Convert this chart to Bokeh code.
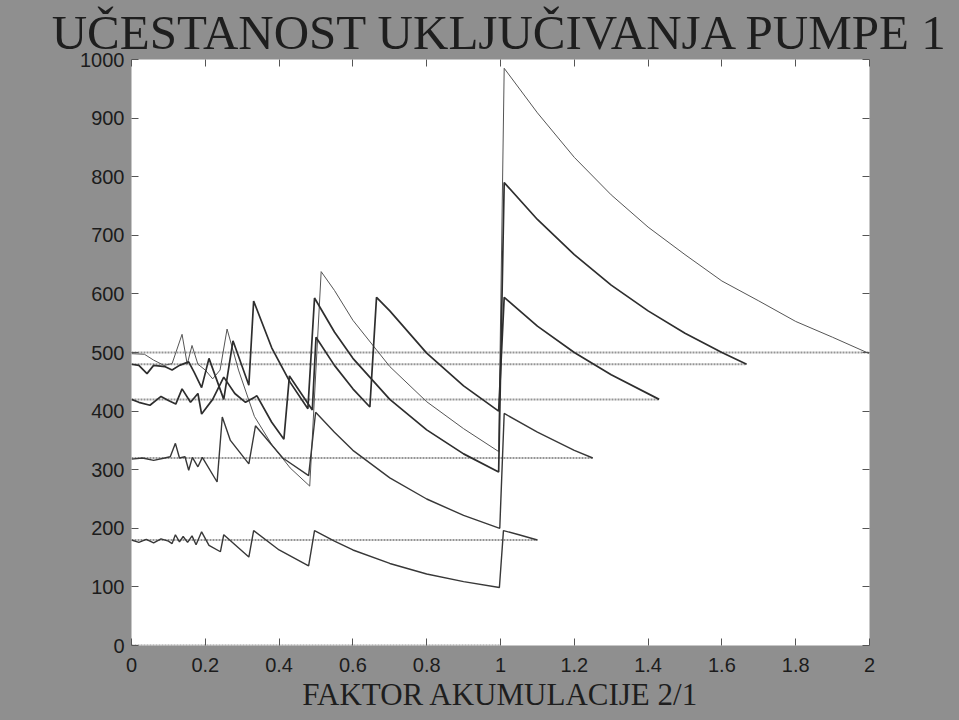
from bokeh.plotting import figure
from bokeh.models import LinearAxis, Range1d, FixedTicker, GlobalInlineStyleSheet
from bokeh.embed import file_html
from bokeh.resources import INLINE

# ---------------- data ----------------
title_text = "UČESTANOST UKLJUČIVANJA PUMPE 1"
x_label_text = "FAKTOR AKUMULACIJE 2/1"

x_ticks = [0, 0.2, 0.4, 0.6, 0.8, 1, 1.2, 1.4, 1.6, 1.8, 2]
x_tick_labels = ["0", "0.2", "0.4", "0.6", "0.8", "1", "1.2", "1.4", "1.6", "1.8", "2"]
y_ticks = [0, 100, 200, 300, 400, 500, 600, 700, 800, 900, 1000]
y_tick_labels = ["0", "100", "200", "300", "400", "500", "600", "700", "800", "900", "1000"]

# steady-state levels (horizontal lines): level value and x where it ends
level_values = [500, 480, 420, 320, 180, 0]
level_x_end = [2.0, 1.667, 1.43, 1.25, 1.1, 1.0]

# curve A (thin, level 500)
a_x = [0, 0.035, 0.06, 0.088, 0.11, 0.137, 0.151, 0.164, 0.18, 0.2, 0.22, 0.24, 0.259, 0.29, 0.333,
       0.38, 0.43, 0.483, 0.514, 0.55, 0.6, 0.7, 0.8, 0.9, 0.995, 1.01, 1.1, 1.2, 1.3, 1.4, 1.5,
       1.6, 1.7, 1.8, 1.9, 2.0]
a_y = [498, 497, 487, 478, 481, 531, 480, 512, 480, 470, 455, 470, 540, 470, 391,
       343, 303, 272, 638, 606, 555, 476, 416, 370, 331, 985, 909, 833, 769, 714, 667,
       622, 588, 553, 526, 498]

# curve B (thick, level 480)
b_x = [0, 0.02, 0.042, 0.06, 0.09, 0.11, 0.13, 0.155, 0.17, 0.19, 0.21, 0.23, 0.25, 0.275, 0.318,
       0.331, 0.38, 0.43, 0.478, 0.496, 0.55, 0.6, 0.7, 0.8, 0.9, 0.995, 1.01, 1.1, 1.2, 1.3,
       1.4, 1.5, 1.6, 1.667]
b_y = [480, 478, 464, 478, 476, 470, 478, 484, 466, 440, 490, 455, 420, 520, 444,
       588, 508, 449, 404, 593, 535, 490, 420, 368, 327, 296, 790, 727, 667, 615,
       571, 533, 500, 480]

# curve C (thick, level 420)
c_x = [0, 0.02, 0.05, 0.08, 0.1, 0.12, 0.137, 0.16, 0.18, 0.19, 0.22, 0.25, 0.28, 0.309, 0.34,
       0.38, 0.413, 0.428, 0.49, 0.5, 0.55, 0.6, 0.646, 0.664, 0.7, 0.8, 0.9, 0.995, 1.01, 1.1,
       1.2, 1.3, 1.43]
c_y = [420, 415, 410, 425, 418, 412, 438, 415, 430, 395, 420, 458, 430, 415, 426,
       381, 352, 460, 402, 526, 478, 438, 407, 594, 571, 499, 443, 400, 594, 545,
       500, 462, 420]

# curve D (medium, level 320)
d_x = [0, 0.03, 0.06, 0.09, 0.105, 0.119, 0.13, 0.145, 0.155, 0.165, 0.18, 0.192, 0.232, 0.246,
       0.268, 0.318, 0.336, 0.41, 0.48, 0.499, 0.55, 0.6, 0.7, 0.8, 0.9, 0.998, 1.01, 1.1,
       1.2, 1.25]
d_y = [318, 320, 316, 320, 322, 345, 320, 322, 299, 321, 305, 321, 279, 390,
       350, 310, 375, 320, 290, 398, 364, 333, 286, 250, 222, 200, 396, 364,
       333, 320]

# curve E (medium, level 180)
e_x = [0, 0.02, 0.04, 0.06, 0.08, 0.1, 0.11, 0.119, 0.13, 0.14, 0.152, 0.164, 0.175, 0.19,
       0.21, 0.241, 0.25, 0.318, 0.331, 0.4, 0.48, 0.496, 0.55, 0.6, 0.7, 0.8, 0.9, 0.997,
       1.008, 1.05, 1.1]
e_y = [180, 176, 181, 175, 182, 178, 174, 189, 177, 186, 176, 187, 172, 194,
       171, 160, 189, 151, 196, 163, 136, 196, 178, 163, 140, 122, 109, 99,
       196, 189, 180]

# ---------------- figure ----------------
p = figure(frame_width=738, frame_height=586,
           x_range=Range1d(0, 2), y_range=Range1d(0, 1000),
           output_backend="svg", toolbar_location=None,
           min_border_left=131, min_border_right=82,
           min_border_top=59, min_border_bottom=60,
           x_axis_type=None, y_axis_type=None)
p.background_fill_color = "white"
p.border_fill_color = "#8f8f8f"
p.outline_line_color = None
p.grid.visible = False
p.stylesheets = [GlobalInlineStyleSheet(css="body { background-color: #8f8f8f; margin: 0; }")]

label_font = "Liberation Sans"


def make_axis(ticks, labels, show_labels):
    ax = LinearAxis(ticker=FixedTicker(ticks=ticks),
                    major_label_overrides={t: l for t, l in zip(ticks, labels)})
    ax.axis_line_color = None
    ax.major_tick_in = 7
    ax.major_tick_out = 0
    ax.major_tick_line_color = "#555555"
    ax.major_tick_line_width = 1
    ax.minor_tick_line_color = None
    ax.major_label_text_font = label_font
    if show_labels:
        ax.major_label_text_font_size = "20px"
        ax.major_label_text_color = "#1c1c1c"
        ax.major_label_standoff = 7
    else:
        ax.major_label_text_font_size = "0px"
        ax.major_label_text_color = None
        ax.major_label_standoff = 0
    return ax


x_axis = make_axis(x_ticks, x_tick_labels, True)
x_axis.major_label_standoff = 12
x_axis.axis_label = x_label_text
x_axis.axis_label_text_font = "Liberation Serif"
x_axis.axis_label_text_font_style = "normal"
x_axis.axis_label_text_font_size = "31px"
x_axis.axis_label_text_color = "#1e1e1e"
x_axis.axis_label_standoff = 2
p.add_layout(x_axis, "below")
p.add_layout(make_axis(y_ticks, y_tick_labels, True), "left")
p.add_layout(make_axis(x_ticks, x_tick_labels, False), "above")
p.add_layout(make_axis(y_ticks, y_tick_labels, False), "right")

p.title.text = title_text
p.title.align = "center"
p.title.text_font = "Liberation Serif"
p.title.text_font_style = "normal"
p.title.text_font_size = "49px"
p.title.text_color = "#1e1e1e"
p.title.standoff = 0
p.title.offset = 0

# steady-state level lines
for lv, xe in zip(level_values, level_x_end):
    p.line([0, xe], [lv, lv], line_color="#959595", line_width=2, line_dash="2 1")

# curves
p.line(a_x, a_y, line_color="#555555", line_width=1.0)
p.line(b_x, b_y, line_color="#2e2e2e", line_width=1.7)
p.line(c_x, c_y, line_color="#2e2e2e", line_width=1.7)
p.line(d_x, d_y, line_color="#383838", line_width=1.4)
p.line(e_x, e_y, line_color="#383838", line_width=1.4)

open("out.html", "w").write(file_html(p, INLINE))
